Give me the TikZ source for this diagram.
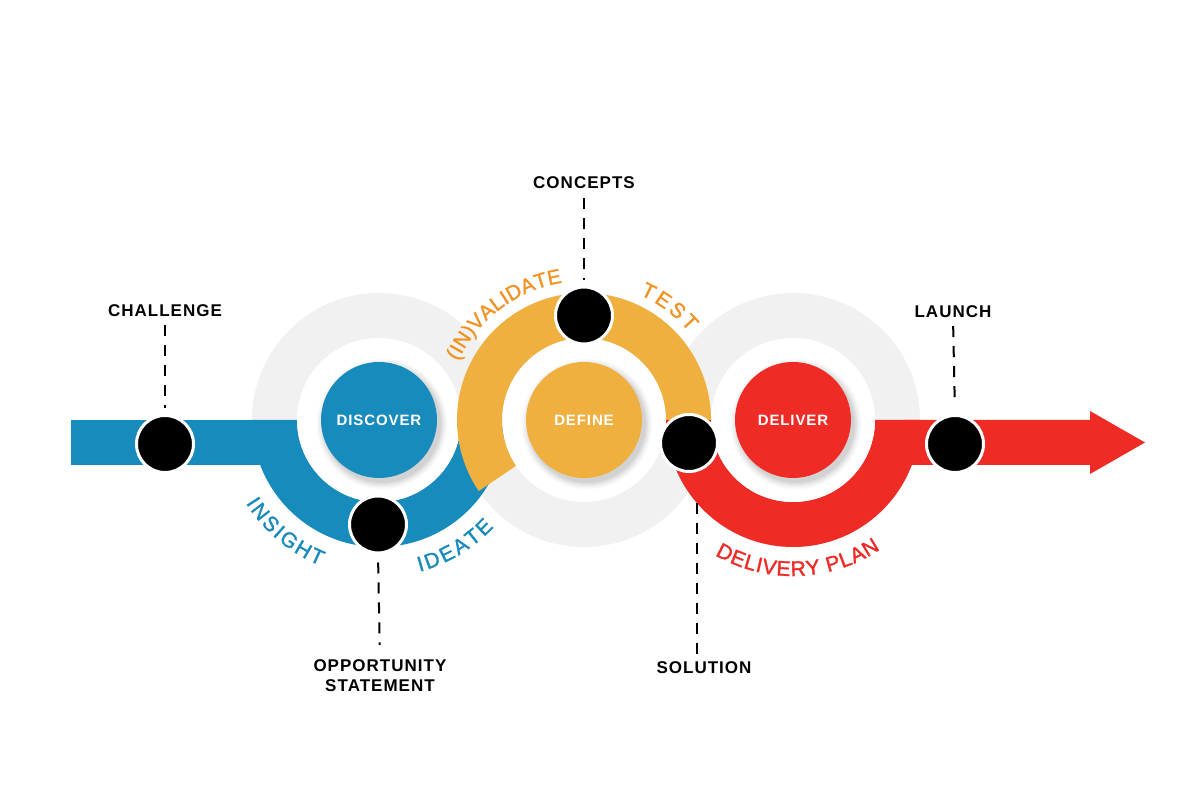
\documentclass[tikz,border=0pt]{standalone}
\usepackage{fontspec}
\setmainfont{Liberation Sans}
\newfontfamily\lblfam[LetterSpace=6]{Liberation Sans}
\newfontfamily\arcfam[FakeBold=1.5]{Liberation Sans}
\usetikzlibrary{calc,decorations.text}
\definecolor{cblue}{HTML}{188BBD}
\definecolor{corange}{HTML}{F0B03F}
\definecolor{ctext}{HTML}{F39325}
\definecolor{cred}{HTML}{EE2B25}
\definecolor{cgray}{HTML}{F1F1F1}
\tikzset{
  dotnode/.style={circle, fill=black, draw=white, line width=3pt, minimum size=57pt, inner sep=0pt},
  stagenode/.style={circle, minimum size=116pt, inner sep=0pt, text=white, font=\lblfam\bfseries\fontsize{15}{18}\selectfont},
  lbl/.style={font=\lblfam\bfseries\fontsize{17}{20}\selectfont, text=black, inner sep=0pt},
  lead/.style={line width=2pt, dash pattern=on 11pt off 9pt},
  arclbl/.style={decorate, decoration={text along path, text align=fit to path, text color=#1}},
}
\begin{document}
\begin{tikzpicture}[x=1pt,y=1pt]
\useasboundingbox (0,0) rectangle (1200,800);
\fill[white] (0,0) rectangle (1200,800);
\coordinate (C1) at (379,380);
\coordinate (C2) at (584,380);
\coordinate (C3) at (793,380);
% gray rings
\foreach \c in {C1,C2,C3} { \fill[cgray] (\c) circle[radius=127]; }
% blue band
\fill[cblue] (71,335) rectangle (265,380);
\fill[cblue] ($(C1)+(180:127)$) arc[start angle=180,end angle=360,radius=127]
  -- ($(C1)+(0:82)$) arc[start angle=0,end angle=-180,radius=82] -- cycle;
% solution leader start (under red band)
\coordinate (sotop) at (697,297);
% red band
\fill[cred] ($(C3)+(180:127)$) arc[start angle=180,end angle=360,radius=127]
  -- ($(C3)+(0:82)$) arc[start angle=0,end angle=-180,radius=82] -- cycle;
\fill[cred] (905,335) -- (905,380) -- (1090,380) -- (1090,389) -- (1145,357.5) -- (1090,326) -- (1090,335) -- cycle;
% white holes
\foreach \c in {C1,C2,C3} { \fill[white] (\c) circle[radius=82]; }
% orange band
\fill[corange] ($(C2)+(0:127)$) arc[start angle=0,end angle=214,radius=127]
  -- ($(C2)+(214:82)$) arc[start angle=214,end angle=0,radius=82] -- cycle;
% shadows
\foreach \c in {C1,C2,C3} {
  \foreach \r/\o in {65/0.03,63/0.04,61/0.05,59/0.06} {
    \fill[black,opacity=\o] ($(\c)+(3,-4)$) circle[radius=\r];
  }
}
% stage disks
\node[stagenode, fill=cblue] (discover) at (C1) {DISCOVER};
\node[stagenode, fill=corange] (define) at (C2) {DEFINE};
\node[stagenode, fill=cred] (deliver) at (C3) {DELIVER};
% dots
\node[dotnode] (dch) at (165,356) {};
\node[dotnode] (dop) at (378,275.5) {};
\node[dotnode] (dco) at (584,484.5) {};
\node[dotnode] (dso) at (689,357) {};
\node[dotnode] (dla) at (955,356) {};
% labels
\node[lbl] (tch) at (165,489) {CHALLENGE};
\node[lbl] (tco) at (584,617) {CONCEPTS};
\node[lbl] (tla) at (953,488) {LAUNCH};
\node[lbl, align=center] (top) at (380,124) {OPPORTUNITY\\STATEMENT};
\node[lbl] (tso) at (704,132) {SOLUTION};
% leaders
\draw[lead, shorten <=8pt, shorten >=6pt] (tch.south) -- (dch.north);
\draw[lead, shorten <=9pt, shorten >=5pt] (tco.south) -- (dco.north);
\draw[lead, shorten <=8pt, shorten >=8pt] (tla.south) -- (dla.north);
\draw[lead, shorten <=8pt, shorten >=15pt] (dop.south) -- (top.north);
\draw[lead, shorten >=7pt] (sotop) -- (sotop |- tso.north);
% curved labels
\path[arclbl=cblue, decoration={text={|\arcfam\fontsize{21}{25}\selectfont|INSIGHT}}]
  ($(C1)+(212:157)$) arc[start angle=212,end angle=248,radius=157];
\path[arclbl=cblue, decoration={text={|\arcfam\fontsize{21}{25}\selectfont|IDEATE}}]
  ($(C1)+(285:157)$) arc[start angle=285,end angle=317,radius=157];
\path[arclbl=ctext, decoration={text={|\arcfam\fontsize{20.5}{25}\selectfont|(IN)VALIDATE}}]
  ($(C2)+(155:139)$) arc[start angle=155,end angle=99,radius=139];
\path[arclbl=ctext, decoration={text={|\arcfam\fontsize{21}{25}\selectfont|TEST}}]
  ($(C2)+(66:137)$) arc[start angle=66,end angle=40,radius=137];
\path[arclbl=cred, decoration={text={|\arcfam\fontsize{21}{25}\selectfont|DELIVERY PLAN}}]
  ($(C3)+(240:156)$) arc[start angle=240,end angle=304,radius=156];
\end{tikzpicture}
\end{document}
